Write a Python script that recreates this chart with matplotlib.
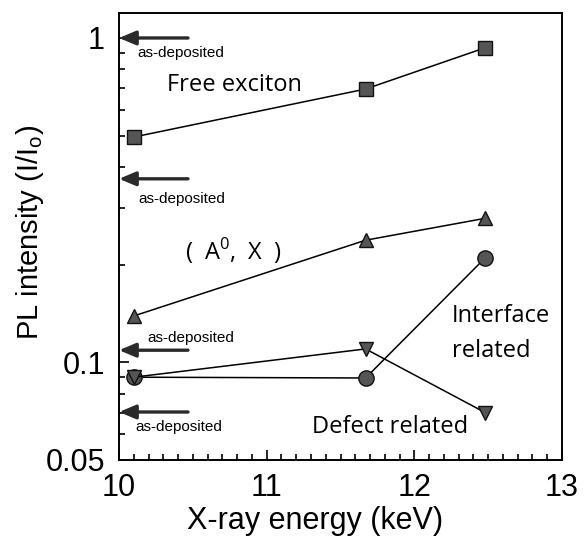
import matplotlib
matplotlib.use("Agg")
import matplotlib.pyplot as plt
from matplotlib.ticker import MultipleLocator, FixedLocator, LogLocator, NullFormatter

plt.rcParams['font.family'] = ['Liberation Sans', 'DejaVu Sans']

# ---- data ----
energy = [10.1, 11.67, 12.48]
free_exciton = [0.495, 0.696, 0.933]
a0x = [0.139, 0.238, 0.278]
interface = [0.090, 0.0895, 0.210]
defect = [0.090, 0.110, 0.070]
as_deposited = [1.0, 0.368, 0.109, 0.0703]
xticks = [10, 11, 12, 13]
yticks = [0.05, 0.1, 1]
ytick_labels = ['0.05', '0.1', '1']

fig = plt.figure(figsize=(5.85, 5.38), dpi=100)
ax = fig.add_axes([119/585, (538-460)/538, 443/585, 447/538])

ax.set_yscale('log')
ax.set_xlim(10, 13)
ax.set_ylim(0.05, 1.194)

mk = dict(color='black', lw=1.1, markeredgecolor='#111111', markerfacecolor='#555555',
          markeredgewidth=1.0, clip_on=False, zorder=3)
ax.plot(energy, free_exciton, marker='s', ms=10, **mk)
ax.plot(energy, a0x, marker='^', ms=10, **mk)
ax.plot(energy, interface, marker='o', ms=11, **mk)
ax.plot(energy, defect, marker='v', ms=10, **mk)

# as-deposited arrows
tail_x = 10.467
for lvl in as_deposited:
    ax.annotate('', xy=(10.0, lvl), xytext=(tail_x, lvl),
                arrowprops=dict(arrowstyle='-|>,head_length=1.0,head_width=0.42',
                                color='#2a2a2a', lw=2.4, shrinkA=0, shrinkB=0,
                                mutation_scale=10),
                annotation_clip=False, zorder=4)

lab_pos = [(0.041, 0.9105), (0.043, 0.584), (0.065, 0.273), (0.036, 0.0738)]
for (tx, ty) in lab_pos:
    ax.text(tx, ty, 'as-deposited', transform=ax.transAxes, fontsize=11,
            ha='left', va='center', family=['Liberation Sans'])

ann = dict(transform=ax.transAxes, fontsize=17, family=['Open Sans', 'DejaVu Sans'],
           ha='left', va='baseline')
ax.text(0.108, 0.8255, 'Free exciton', **ann)
ax.text(0.149, 0.447, '(  A$^\\mathregular{0}$,  X  )', **ann)
ax.text(0.752, 0.309, 'Interface', **ann)
ax.text(0.752, 0.231, 'related', **ann)
ax.text(0.436, 0.060, 'Defect related', **ann)

# ticks
ax.xaxis.set_major_locator(FixedLocator(xticks))
ax.xaxis.set_minor_locator(MultipleLocator(0.1))
ax.yaxis.set_major_locator(FixedLocator(yticks))
ax.set_yticklabels(ytick_labels)
ax.yaxis.set_minor_locator(LogLocator(base=10, subs=[2, 3, 4, 5, 6, 7, 8, 9]))
ax.yaxis.set_minor_formatter(NullFormatter())
ax.tick_params(which='both', direction='in', top=False, right=False, labelsize=22, width=1.2)
ax.tick_params(which='major', length=7)
ax.tick_params(which='minor', length=4)
ax.tick_params(axis='x', pad=9)
ax.tick_params(axis='y', pad=10)

for s in ax.spines.values():
    s.set_linewidth(1.4)

ax.set_xlabel('X-ray energy (keV)', fontsize=22)
ax.set_ylabel('PL intensity (I/I$_\\mathregular{o}$)', fontsize=21)
ax.xaxis.set_label_coords(0.4425, -0.103)
ax.yaxis.set_label_coords(-0.165, 0.51)

fig.savefig('out.png', dpi=100)
